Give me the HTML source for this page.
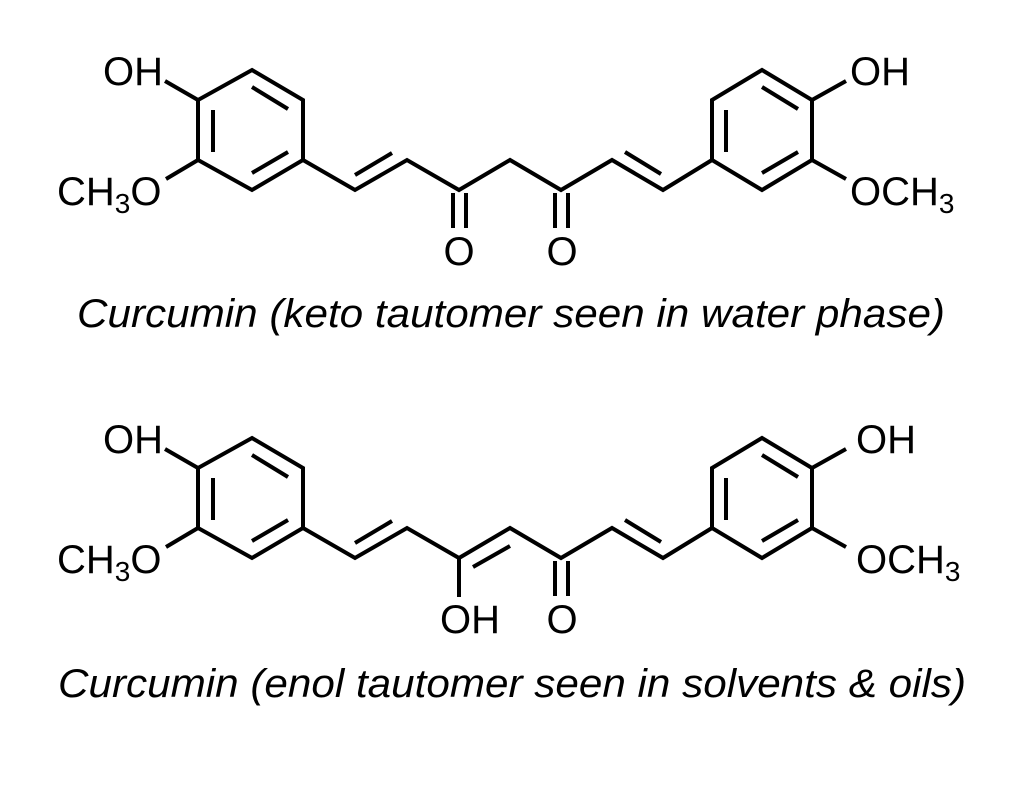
<!DOCTYPE html>
<html><head><meta charset="utf-8"><style>
html,body{margin:0;padding:0;background:#fff;width:1024px;height:791px;overflow:hidden}
svg{display:block}
text{font-family:"Liberation Sans",sans-serif;fill:#000}
.cap{font-family:"Liberation Sans",sans-serif;font-style:italic;font-size:40px}
</style></head><body>
<svg width="1024" height="791" viewBox="0 0 1024 791" xmlns="http://www.w3.org/2000/svg">
<defs>
<g id="common" stroke="#000" stroke-width="4" fill="none" stroke-linecap="butt" stroke-linejoin="miter">
  <!-- left ring -->
  <polygon points="252,70 303,100 303,160 252,190 198,160 198,100"/>
  <line x1="213" y1="110" x2="213" y2="152"/>
  <line x1="252" y1="87" x2="288" y2="109"/>
  <line x1="252" y1="173" x2="288" y2="152"/>
  <line x1="198" y1="100" x2="165" y2="81"/>
  <line x1="198" y1="160" x2="166" y2="179"/>
  <!-- right ring -->
  <polygon points="762,70 812,100 812,160 762,190 712,160 712,100"/>
  <line x1="726" y1="110" x2="726" y2="152"/>
  <line x1="762" y1="87" x2="798" y2="109"/>
  <line x1="762" y1="173" x2="798" y2="152"/>
  <line x1="812" y1="100" x2="846" y2="81"/>
  <line x1="812" y1="160" x2="846" y2="179"/>
  <!-- chain -->
  <polyline points="303,160 355,190 407,160 459,190 510,160 561,190 612,160 663,190 712,160"/>
  <line x1="355" y1="175" x2="392" y2="153"/>
  <line x1="625" y1="152" x2="661" y2="174"/>
</g>
</defs>

<!-- keto -->
<use href="#common"/>
<g stroke="#000" stroke-width="4">
  <line x1="453" y1="193" x2="453" y2="228"/>
  <line x1="466" y1="193" x2="466" y2="228"/>
  <line x1="555" y1="193" x2="555" y2="228"/>
  <line x1="568" y1="193" x2="568" y2="228"/>
</g>
<text x="103" y="85" font-size="40">OH</text>
<text x="57" y="205" font-size="40">CH<tspan font-size="28" dy="8">3</tspan><tspan dy="-8">O</tspan></text>
<text x="850" y="85" font-size="40">OH</text>
<text x="850" y="205" font-size="40">OCH<tspan font-size="28" dy="8">3</tspan></text>
<text x="459" y="265" font-size="40" text-anchor="middle">O</text>
<text x="562" y="265" font-size="40" text-anchor="middle">O</text>
<text class="cap" x="77" y="327" textLength="868" lengthAdjust="spacingAndGlyphs">Curcumin (keto tautomer seen in water phase)</text>

<!-- enol -->
<use href="#common" transform="translate(0,368)"/>
<g stroke="#000" stroke-width="4">
  <line x1="473" y1="567" x2="510" y2="546"/>
  <line x1="459" y1="558" x2="459" y2="597"/>
  <line x1="555" y1="561" x2="555" y2="596"/>
  <line x1="568" y1="561" x2="568" y2="596"/>
</g>
<text x="103" y="453" font-size="40">OH</text>
<text x="57" y="573" font-size="40">CH<tspan font-size="28" dy="8">3</tspan><tspan dy="-8">O</tspan></text>
<text x="856" y="453" font-size="40">OH</text>
<text x="856" y="573" font-size="40">OCH<tspan font-size="28" dy="8">3</tspan></text>
<text x="470" y="633" font-size="40" text-anchor="middle">OH</text>
<text x="562" y="633" font-size="40" text-anchor="middle">O</text>
<text class="cap" x="58" y="697" textLength="908" lengthAdjust="spacingAndGlyphs">Curcumin (enol tautomer seen in solvents &amp; oils)</text>
</svg>
</body></html>
